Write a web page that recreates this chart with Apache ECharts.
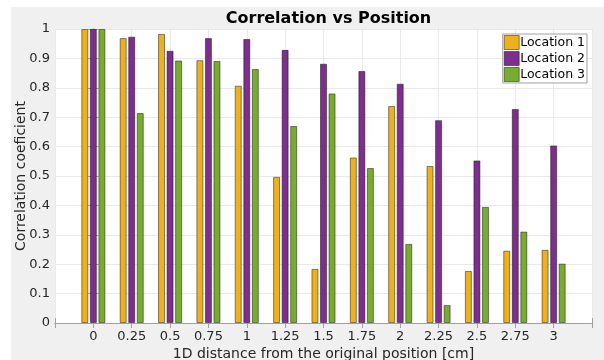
<!DOCTYPE html>
<html>
<head>
<meta charset="utf-8">
<script src="https://cdn.jsdelivr.net/npm/echarts@6/dist/echarts.min.js"></script>
<style>
html,body{margin:0;padding:0;background:#fff;}
#c{width:604px;height:360px;}
</style>
</head>
<body>
<div id="c"></div>
<script>
const categories = [0, 0.25, 0.5, 0.75, 1, 1.25, 1.5, 1.75, 2, 2.25, 2.5, 2.75, 3];
const location1 = [1.0, 0.969, 0.983, 0.894, 0.807, 0.497, 0.184, 0.563, 0.738, 0.534, 0.177, 0.246, 0.249];
const location2 = [1.0, 0.974, 0.926, 0.969, 0.966, 0.929, 0.882, 0.857, 0.814, 0.690, 0.553, 0.728, 0.604];
const location3 = [1.0, 0.714, 0.893, 0.891, 0.864, 0.670, 0.781, 0.527, 0.269, 0.061, 0.395, 0.311, 0.202];
const seriesNames = ['Location 1', 'Location 2', 'Location 3'];
const colors = ['#EDB120', '#7E2F8E', '#77AC30'];

const font = 'DejaVu Sans';
const axisColor = '#a0a0a0';
const gridColor = '#e9e9e9';

function pairs(vals){ return categories.map((c,i)=>[c, vals[i]]); }

const chart = echarts.init(document.getElementById('c'), null, {renderer:'canvas'});

const xCommon = {
  type:'value', min:-0.25, max:3.25, interval:0.25,
  axisLine:{show:true, lineStyle:{color:axisColor, width:1}},
  axisTick:{show:true, inside:true, length:5, lineStyle:{color:axisColor}},
  splitLine:{show:false}
};
const yCommon = {
  type:'value', min:0, max:1, interval:0.1,
  axisLine:{show:true, lineStyle:{color:axisColor, width:1}},
  axisTick:{show:true, inside:true, length:5, lineStyle:{color:axisColor}},
  splitLine:{show:false}
};

const option = {
  backgroundColor:'#ffffff',
  animation:false,
  graphic:[{type:'rect', z:-10, shape:{x:11, y:7, width:600, height:360}, style:{fill:'#f0f0f0'}},
           {type:'rect', z:-9, shape:{x:55, y:29, width:537, height:294}, style:{fill:'#ffffff'}}],
  title:{
    text:'Correlation vs Position',
    left:323.5, top:6, textAlign:'center',
    textStyle:{fontFamily:font, fontSize:16, fontWeight:'bold', color:'#000'}
  },
  legend:{
    data:seriesNames,
    orient:'vertical',
    right:17, top:34,
    itemWidth:15, itemHeight:14, itemGap:1,
    padding:[1,2,1,1],
    backgroundColor:'#ffffff',
    borderColor:'#a0a0a0', borderWidth:1, borderRadius:0,
    icon:'rect',
    textStyle:{fontFamily:font, fontSize:12.5, lineHeight:14, color:'#000', padding:[0,0,0,-4]},
    itemStyle:{borderColor:'rgba(0,0,0,0.45)', borderWidth:1}
  },
  grid:{left:55, top:29, width:537, height:294, containLabel:false, outerBoundsMode:'none'},
  xAxis:[
    Object.assign({}, xCommon, {
      position:'bottom',
      name:'1D distance from the original position [cm]',
      nameLocation:'middle', nameGap:24, nameMoveOverlap:false,
      nameTextStyle:{fontFamily:font, fontSize:14, color:'#262626'},
      axisLabel:{fontFamily:font, fontSize:13, color:'#262626', margin:7,
        formatter:function(v){ return (v < -0.01 || v > 3.01) ? '' : String(Math.round(v*100)/100); }},
      splitLine:{show:true, lineStyle:{color:gridColor, width:1}}
    }),
    Object.assign({}, xCommon, {position:'top', axisLabel:{show:false}})
  ],
  yAxis:[
    Object.assign({}, yCommon, {
      position:'left',
      name:'Correlation coeficient',
      nameLocation:'middle', nameGap:27, nameRotate:90, nameMoveOverlap:false,
      nameTextStyle:{fontFamily:font, fontSize:14, color:'#262626'},
      axisLabel:{fontFamily:font, fontSize:13, color:'#262626', margin:5,
        formatter:function(v){ return String(Math.round(v*10)/10); }},
      splitLine:{show:true, lineStyle:{color:gridColor, width:1}}
    }),
    Object.assign({}, yCommon, {position:'right', axisLabel:{show:false}})
  ],
  series:[location1, location2, location3].map((vals, i)=>({
    name:seriesNames[i],
    type:'bar',
    xAxisIndex:0, yAxisIndex:0,
    data:pairs(vals),
    barWidth:7,
    barGap:'22%',
    itemStyle:{color:colors[i], borderColor:'rgba(0,0,0,0.45)', borderWidth:1}
  }))
};
chart.setOption(option);
</script>
</body>
</html>
